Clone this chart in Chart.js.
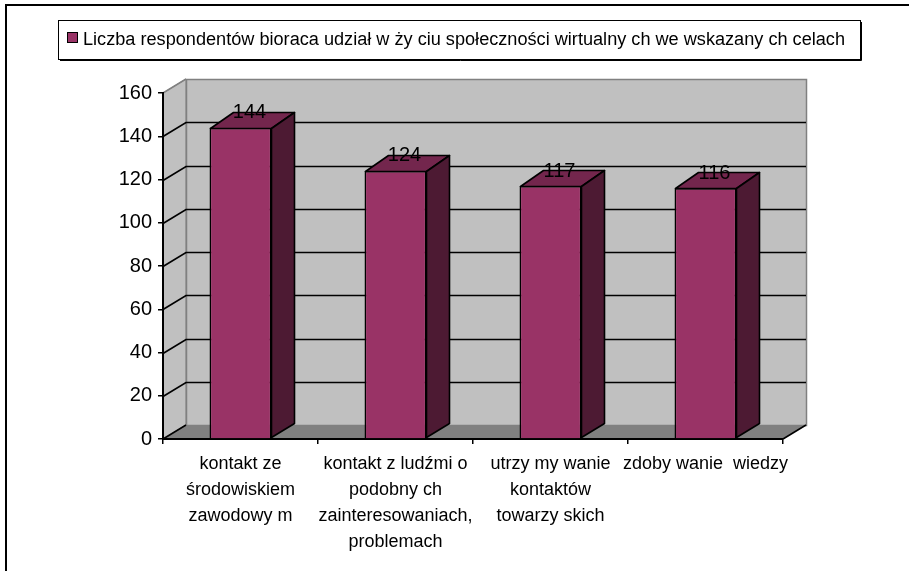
<!DOCTYPE html>
<html>
<head>
<meta charset="utf-8">
<script src="https://cdn.jsdelivr.net/npm/chart.js@4/dist/chart.umd.min.js"></script>
<style>
  html, body { margin: 0; padding: 0; background: #ffffff; }
  #wrap { width: 909px; height: 571px; position: relative; }
</style>
</head>
<body>
<div id="wrap"><canvas id="c" width="909" height="571"></canvas></div>
<script>
// ---- data ----
const categories = [
  ["kontakt ze", "środowiskiem", "zawodowy m"],
  ["kontakt z ludźmi o", "podobny ch", "zainteresowaniach,", "problemach"],
  ["utrzy my wanie", "kontaktów", "towarzy skich"],
  ["zdoby wanie  wiedzy"]
];
const values = [144, 124, 117, 116];
const seriesLabel = "Liczba respondentów bioraca udział w ży ciu społeczności wirtualny ch we wskazany ch celach";
const yMin = 0;
const yMax = 160;
const yStep = 20;

// ---- style ----
const FONT = '"Liberation Sans", Arial, sans-serif';
const BAR_FRONT = '#993366';
const BAR_TOP = '#73264d';
const BAR_SIDE = '#4d1a33';
const WALL = '#c0c0c0';
const FLOOR = '#808080';
const WALL_EDGE = '#808080';
const WALL_DX = 23, WALL_DY = 14;
const BAR_DX = 23, BAR_DY = 16;

const decor = {
  id: 'decor',
  beforeDraw(chart) {
    const ctx = chart.ctx;
    const ca = chart.chartArea;
    const ys = chart.scales.y;
    ctx.save();
    ctx.fillStyle = '#ffffff';
    ctx.fillRect(0, 0, chart.width, chart.height);
    // outer frame (left + top)
    ctx.fillStyle = '#000';
    ctx.fillRect(5, 4, 2, chart.height - 4);
    ctx.fillRect(5, 4, chart.width - 5, 2);

    // legend box
    const lx = 58, ly = 20, lw = 802, lh = 39;
    ctx.fillStyle = '#fff';
    ctx.fillRect(lx, ly, lw, lh);
    ctx.strokeStyle = '#000';
    ctx.lineWidth = 1;
    ctx.strokeRect(lx + 0.5, ly + 0.5, lw, lh);
    ctx.beginPath();
    ctx.moveTo(lx + lw + 1.5, ly + 2); ctx.lineTo(lx + lw + 1.5, ly + lh + 1.5);
    ctx.lineTo(lx + 2, ly + lh + 1.5);
    ctx.stroke();
    ctx.fillStyle = BAR_FRONT;
    ctx.fillRect(67.5, 32.5, 10, 10);
    ctx.strokeRect(67.5, 32.5, 10, 10);
    ctx.fillStyle = '#000';
    ctx.font = '18px ' + FONT;
    ctx.textBaseline = 'alphabetic';
    ctx.textAlign = 'left';
    const label = chart.data.datasets[0].label;
    const tw = ctx.measureText(label).width;
    const target = 762;
    ctx.save();
    ctx.translate(83, 45);
    ctx.scale(target / tw, 1);
    ctx.fillText(label, 0, 0);
    ctx.restore();

    // walls
    const L = ca.left, R = ca.right, T = ca.top, B = ca.bottom;
    // left side wall
    ctx.fillStyle = WALL;
    ctx.beginPath();
    ctx.moveTo(L, T); ctx.lineTo(L + WALL_DX, T - WALL_DY);
    ctx.lineTo(L + WALL_DX, B - WALL_DY); ctx.lineTo(L, B); ctx.closePath();
    ctx.fill();
    ctx.strokeStyle = WALL_EDGE;
    ctx.stroke();
    // back wall
    ctx.fillStyle = WALL;
    ctx.fillRect(L + WALL_DX, T - WALL_DY, R - L, B - T);
    ctx.strokeStyle = WALL_EDGE;
    ctx.lineWidth = 1.5;
    ctx.strokeRect(L + WALL_DX + 0.5, T - WALL_DY + 0.5, R - L, B - T);
    // floor
    ctx.fillStyle = FLOOR;
    ctx.beginPath();
    ctx.moveTo(L, B); ctx.lineTo(L + WALL_DX, B - WALL_DY);
    ctx.lineTo(R + WALL_DX, B - WALL_DY); ctx.lineTo(R, B); ctx.closePath();
    ctx.fill();
    ctx.strokeStyle = '#000';
    ctx.lineWidth = 1.6;
    ctx.beginPath();
    ctx.moveTo(L, B); ctx.lineTo(L + WALL_DX, B - WALL_DY);
    ctx.moveTo(R, B); ctx.lineTo(R + WALL_DX, B - WALL_DY);
    ctx.stroke();
    // gridlines on walls
    ys.ticks.forEach(t => {
      if (t.value <= yMin || t.value >= yMax) return;
      const py = Math.round(ys.getPixelForValue(t.value)) + 0.5;
      ctx.strokeStyle = '#000';
      ctx.lineWidth = 1.7;
      ctx.beginPath();
      ctx.moveTo(L, py); ctx.lineTo(L + WALL_DX, py - WALL_DY);
      ctx.lineTo(R + WALL_DX, py - WALL_DY);
      ctx.stroke();
    });
    // top diagonal (gray)
    ctx.strokeStyle = WALL_EDGE;
    ctx.lineWidth = 1.5;
    ctx.beginPath();
    ctx.moveTo(L, T); ctx.lineTo(L + WALL_DX, T - WALL_DY);
    ctx.stroke();
    ctx.restore();
  },
  afterDatasetsDraw(chart) {
    const ctx = chart.ctx;
    const meta = chart.getDatasetMeta(0);
    ctx.save();
    ctx.strokeStyle = '#000';
    ctx.lineWidth = 1.6;
    ctx.lineJoin = 'round';
    meta.data.forEach((bar, i) => {
      const p = bar.getProps(['x', 'y', 'base', 'width'], true);
      const x0 = Math.round(p.x - p.width / 2) + 0.5;
      const x1 = Math.round(p.x + p.width / 2) - 0.5;
      const y0 = Math.round(p.y) + 0.5;
      const yb = Math.round(p.base) - 0.5;
      // top
      ctx.fillStyle = BAR_TOP;
      ctx.beginPath();
      ctx.moveTo(x0, y0); ctx.lineTo(x0 + BAR_DX, y0 - BAR_DY);
      ctx.lineTo(x1 + BAR_DX, y0 - BAR_DY); ctx.lineTo(x1, y0); ctx.closePath();
      ctx.fill(); ctx.stroke();
      // side
      ctx.fillStyle = BAR_SIDE;
      ctx.beginPath();
      ctx.moveTo(x1, y0); ctx.lineTo(x1 + BAR_DX, y0 - BAR_DY);
      ctx.lineTo(x1 + BAR_DX, yb - BAR_DY + 2); ctx.lineTo(x1, yb); ctx.closePath();
      ctx.fill(); ctx.stroke();
      // value label
      ctx.fillStyle = '#000';
      ctx.font = '20px ' + FONT;
      ctx.textAlign = 'center';
      ctx.textBaseline = 'middle';
      ctx.fillText(String(chart.data.datasets[0].data[i]), p.x + 9, p.y - 15);
    });
    ctx.restore();
  }
};

new Chart(document.getElementById('c'), {
  type: 'bar',
  data: {
    labels: categories,
    datasets: [{
      label: seriesLabel,
      data: values,
      backgroundColor: BAR_FRONT,
      borderColor: '#000',
      borderWidth: 1.6,
      barPercentage: 0.4,
      categoryPercentage: 1.0
    }]
  },
  options: {
    responsive: false,
    animation: false,
    devicePixelRatio: 1,
    layout: { padding: { top: 93, right: 126, left: 0, bottom: 0 } },
    plugins: { legend: { display: false }, tooltip: { enabled: false } },
    scales: {
      x: {
        offset: true,
        grid: { display: true, offset: true, drawOnChartArea: false, drawTicks: true, tickLength: 5, color: '#000', lineWidth: 1.5 },
        border: { display: true, color: '#000', width: 2 },
        ticks: { color: '#000', font: { family: FONT, size: 18, lineHeight: 26 / 18 }, padding: 7, maxRotation: 0, autoSkip: false },
        afterFit(scale) { scale.height = 132; }
      },
      y: {
        min: yMin, max: yMax,
        ticks: { stepSize: yStep, color: '#000', font: { family: FONT, size: 20 }, padding: 6 },
        grid: { display: true, drawOnChartArea: false, drawTicks: true, tickLength: 5, color: '#000', lineWidth: 1.5 },
        border: { display: true, color: '#000', width: 2 },
        afterFit(scale) { scale.width = 163; }
      }
    }
  },
  plugins: [decor]
});
</script>
</body>
</html>
